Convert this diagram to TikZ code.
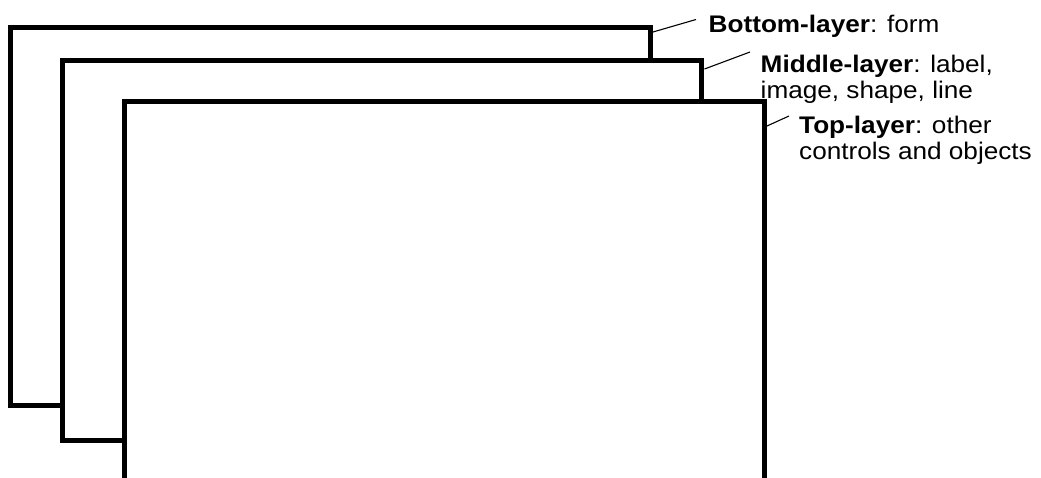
\documentclass[tikz,border=0pt]{standalone}
\usepackage{fontspec}
\setmainfont{Liberation Sans}[FakeStretch=1.09]
\begin{document}
\begin{tikzpicture}[x=1pt,y=-1pt,
  layerbox/.style={line width=5pt,fill=white,draw=black},
  leader/.style={line width=1.1pt,draw=black},
  lbl/.style={anchor=base west,inner sep=0pt,align=left,font=\fontsize{24}{26.5}\selectfont}]
\useasboundingbox (0,0) rectangle (1041,477);
\begin{scope}
\clip (0,0) rectangle (1041,477);
\draw[layerbox] (10.5,27.5) rectangle (650.5,405.5);
\draw[layerbox] (62.5,60.5) rectangle (701.5,440.5);
\draw[layerbox] (124.5,101.5) rectangle (764.5,520);
\end{scope}
\coordinate (bA) at (653,32);
\coordinate (bB) at (696,19.5);
\coordinate (mA) at (704.5,69);
\coordinate (mB) at (750,52);
\coordinate (tA) at (767,126);
\coordinate (tB) at (789,116);
\draw[leader] (bA) -- (bB);
\draw[leader] (mA) -- (mB);
\draw[leader] (tA) -- (tB);
\node[lbl] (bot) at (708.5,32) {\textbf{Bottom-layer}: form};
\node[lbl] (mid) at (760.5,98.5) {\textbf{Middle-layer}: label,\\image, shape, line};
\node[lbl] (top) at (799,159.5) {\textbf{Top-layer}: other\\controls and objects};
\end{tikzpicture}
\end{document}
